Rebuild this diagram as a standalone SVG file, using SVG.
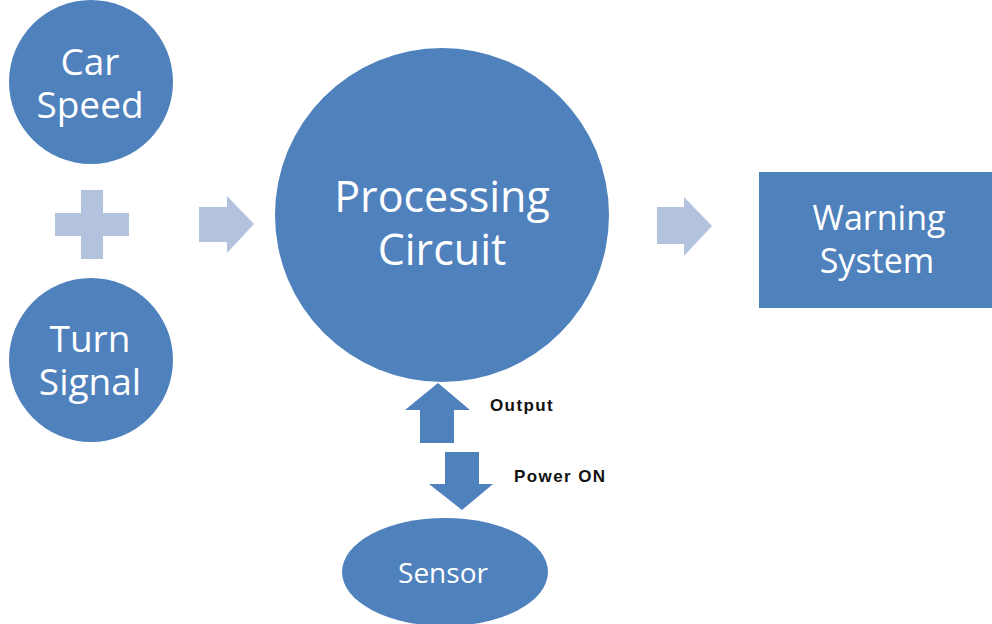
<svg xmlns="http://www.w3.org/2000/svg" width="992" height="624" viewBox="0 0 992 624">
<style>
.n{fill:#4f81bd}
.lt{fill:#b3c3de}
.t{fill:#fff;font-family:"Open Sans","Noto Sans",sans-serif;text-anchor:middle}
.lb{fill:#111;font-family:"Liberation Sans",Arial,sans-serif;font-weight:bold;font-size:17px;letter-spacing:1.4px}
</style>
<rect width="992" height="624" fill="#fff"/>
<g id="car-speed">
<circle class="n" cx="91" cy="82" r="82"/>
<text class="t" x="90" y="75" font-size="37">Car</text>
<text class="t" x="90" y="118" font-size="37">Speed</text>
</g>
<g id="plus">
<path class="lt" d="M81 190H103V213H129V236H103V259H81V236H55V213H81Z"/>
</g>
<g id="turn-signal">
<circle class="n" cx="91" cy="360" r="82"/>
<text class="t" x="90" y="352" font-size="37">Turn</text>
<text class="t" x="90" y="395" font-size="37">Signal</text>
</g>
<g id="processing-circuit">
<circle class="n" cx="442" cy="215" r="167"/>
<text class="t" x="442" y="212" font-size="43">Processing</text>
<text class="t" x="442" y="265" font-size="43">Circuit</text>
</g>
<g id="warning-system">
<rect class="n" x="759" y="172" width="233" height="136"/>
<text class="t" x="879" y="230" font-size="34">Warning</text>
<text class="t" x="877" y="273" font-size="34">System</text>
</g>
<g id="sensor">
<ellipse class="n" cx="445" cy="572" rx="103" ry="54"/>
<text class="t" x="443" y="583" font-size="28">Sensor</text>
</g>
<g id="connectors">
<path class="lt" d="M199 207H227V196L254 224L227 253V242H199Z"/>
<path class="lt" d="M657 207H684V197L712 226L684 256V244H657Z"/>
<path class="n" d="M420 443V410H405L438 383L470 410H454V443Z"/>
<path class="n" d="M445 452H479V484H493L462 510L429 484H445Z"/>
<text class="lb" x="490" y="411">Output</text>
<text class="lb" x="514" y="482">Power ON</text>
</g>
</svg>
